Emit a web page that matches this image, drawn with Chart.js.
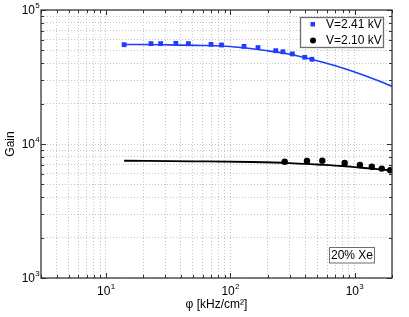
<!DOCTYPE html>
<html>
<head>
<meta charset="utf-8">
<script src="https://cdn.jsdelivr.net/npm/chart.js@4.4.1/dist/chart.umd.min.js"></script>
<style>
  html, body { margin: 0; padding: 0; background: #fff; }
  #wrap { width: 409px; height: 317px; }
</style>
</head>
<body>
<div id="wrap"><canvas id="myChart" width="409" height="317"></canvas></div>
<script>
// measured points, V=2.41 kV (blue squares)
const fluxHigh = [14, 23, 27.5, 36.5, 46, 70, 85, 129, 167, 232, 265, 316, 397, 454];
const gainHigh = [55100, 56100, 56100, 56400, 56100, 55400, 54800, 53500, 52400, 49700, 48800, 47000, 44400, 42900];

// measured points, V=2.10 kV (black circles)
const fluxLow = [274, 414, 550, 832, 1105, 1376, 1655, 1935];
const gainLow = [7380, 7460, 7500, 7210, 6970, 6770, 6550, 6370];

// fitted curves
const fitFluxHigh = [14, 30, 60, 100, 200, 300, 500, 700, 1000, 1500, 2000];
const fitGainHigh = [55300, 55000, 54400, 53400, 49600, 46800, 41800, 38300, 34400, 30000, 27000];
const fitFluxLow = [14, 50, 150, 300, 500, 800, 1200, 2000];
const fitGainLow = [7500, 7430, 7340, 7210, 7030, 6850, 6620, 6340];

const xTickLabels = [1, 2, 3];      // exponents of 10 on x
const yTickLabels = [3, 4, 5];      // exponents of 10 on y
const seriesLabels = ['V=2.41 kV', 'V=2.10 kV'];
const xTitle = 'φ [kHz/cm²]';
const yTitle = 'Gain';
const noteText = '20% Xe';

const blue = '#1f3cff';
const black = '#000000';
const gridColor = '#c4c4c4';
const fontFam = '"Liberation Sans", Arial, Helvetica, sans-serif';

const toPts = (xs, ys) => xs.map((x, i) => ({ x: x, y: ys[i] }));

const logTicks = (min, max) => {
  let out = [];
  for (let e = Math.floor(Math.log10(min)); e <= Math.ceil(Math.log10(max)); e++) {
    for (let m = 1; m <= 9; m++) {
      let v = m * Math.pow(10, e);
      if (v >= min * 0.999 && v <= max * 1.001) out.push({ value: v, major: m === 1 });
    }
  }
  return out;
};

const drawPow = (ctx, exp, x, y, align) => {
  ctx.font = '12px ' + fontFam;
  let w10 = ctx.measureText('10').width;
  ctx.font = '8px ' + fontFam;
  let wE = ctx.measureText(String(exp)).width;
  let start = align === 'right' ? x - w10 : x - (w10 + wE) / 2;
  ctx.fillStyle = '#000';
  ctx.textAlign = 'left';
  ctx.textBaseline = 'middle';
  ctx.font = '12px ' + fontFam;
  ctx.fillText('10', start, y);
  ctx.font = '8px ' + fontFam;
  ctx.fillText(String(exp), start + w10 + 0.3, y - 5.5);
};

const decorPlugin = {
  id: 'decor',
  afterDraw(chart) {
    const ctx = chart.ctx;
    const a = chart.chartArea;
    const xs = chart.scales.x, ys = chart.scales.y;
    ctx.save();

    // tick marks, inside, all four sides
    ctx.strokeStyle = '#333';
    ctx.lineWidth = 1;
    xs.ticks.forEach(t => {
      let px = Math.round(xs.getPixelForValue(t.value)) + 0.5;
      let len = t.major ? 5 : 3;
      ctx.beginPath();
      ctx.moveTo(px, a.bottom); ctx.lineTo(px, a.bottom - len);
      ctx.moveTo(px, a.top); ctx.lineTo(px, a.top + len);
      ctx.stroke();
    });
    ys.ticks.forEach(t => {
      let py = Math.round(ys.getPixelForValue(t.value)) + 0.5;
      let len = t.major ? 5 : 3;
      ctx.beginPath();
      ctx.moveTo(a.left, py); ctx.lineTo(a.left + len, py);
      ctx.moveTo(a.right, py); ctx.lineTo(a.right - len, py);
      ctx.stroke();
    });

    // frame
    ctx.strokeStyle = '#2a2a2a';
    ctx.lineWidth = 1.2;
    ctx.strokeRect(a.left, a.top, a.right - a.left, a.bottom - a.top);

    // tick labels
    xTickLabels.forEach(e => drawPow(ctx, e, xs.getPixelForValue(Math.pow(10, e)), a.bottom + 14, 'center'));
    yTickLabels.forEach(e => drawPow(ctx, e, a.left - 6, ys.getPixelForValue(Math.pow(10, e)) + 1, 'right'));

    // axis titles
    ctx.fillStyle = '#000';
    ctx.font = '12px ' + fontFam;
    ctx.textAlign = 'center';
    ctx.textBaseline = 'middle';
    ctx.fillText(xTitle, (a.left + a.right) / 2, 305);
    ctx.save();
    ctx.translate(11, (a.top + a.bottom) / 2);
    ctx.rotate(-Math.PI / 2);
    ctx.fillText(yTitle, 0, 0);
    ctx.restore();

    // legend box
    ctx.fillStyle = '#fff';
    ctx.fillRect(300, 17, 83, 31);
    ctx.strokeStyle = '#6e6e6e';
    ctx.lineWidth = 1.3;
    ctx.strokeRect(300.5, 17.5, 83, 30);
    ctx.fillStyle = blue;
    ctx.fillRect(310.5, 22, 4.5, 4.5);
    ctx.fillStyle = black;
    ctx.beginPath();
    ctx.arc(313, 40.5, 3, 0, Math.PI * 2);
    ctx.fill();
    ctx.fillStyle = '#000';
    ctx.font = '12px ' + fontFam;
    ctx.textAlign = 'left';
    ctx.textBaseline = 'middle';
    ctx.fillText(seriesLabels[0], 326, 25);
    ctx.fillText(seriesLabels[1], 326, 41);

    // note box
    ctx.fillStyle = '#fff';
    ctx.fillRect(329, 247, 45, 16);
    ctx.strokeStyle = '#6e6e6e';
    ctx.lineWidth = 1;
    ctx.strokeRect(329.5, 247.5, 45, 15.5);
    ctx.fillStyle = '#000';
    ctx.textAlign = 'center';
    ctx.fillText(noteText, 352, 255.5);

    ctx.restore();
  }
};

const ctx = document.getElementById('myChart').getContext('2d');
const myChart = new Chart(ctx, {
  type: 'scatter',
  data: {
    datasets: [
      {
        label: seriesLabels[0],
        data: toPts(fluxHigh, gainHigh),
        pointStyle: 'rect',
        pointRadius: 3.4,
        backgroundColor: blue,
        borderColor: blue,
        borderWidth: 0,
        showLine: false
      },
      {
        label: seriesLabels[1],
        data: toPts(fluxLow, gainLow),
        pointStyle: 'circle',
        pointRadius: 3.2,
        backgroundColor: black,
        borderColor: black,
        borderWidth: 0,
        showLine: false
      },
      {
        label: 'fit high',
        data: toPts(fitFluxHigh, fitGainHigh),
        showLine: true,
        pointRadius: 0,
        borderColor: blue,
        borderWidth: 1.6,
        cubicInterpolationMode: 'monotone'
      },
      {
        label: 'fit low',
        data: toPts(fitFluxLow, fitGainLow),
        showLine: true,
        pointRadius: 0,
        borderColor: black,
        borderWidth: 1.8,
        cubicInterpolationMode: 'monotone'
      }
    ]
  },
  options: {
    responsive: false,
    animation: false,
    layout: { padding: { left: 41, top: 10, right: 17, bottom: 39 } },
    plugins: { legend: { display: false }, tooltip: { enabled: false } },
    scales: {
      x: {
        type: 'logarithmic',
        min: 3,
        max: 2000,
        afterBuildTicks: (s) => { s.ticks = logTicks(3, 2000); },
        ticks: { display: false },
        grid: { color: gridColor, lineWidth: 1, drawTicks: false },
        border: { display: false, dash: [1, 2] }
      },
      y: {
        type: 'logarithmic',
        min: 1000,
        max: 100000,
        afterBuildTicks: (s) => { s.ticks = logTicks(1000, 100000); },
        ticks: { display: false },
        grid: { color: gridColor, lineWidth: 1, drawTicks: false },
        border: { display: false, dash: [1, 2] }
      }
    }
  },
  plugins: [decorPlugin]
});
</script>
</body>
</html>
